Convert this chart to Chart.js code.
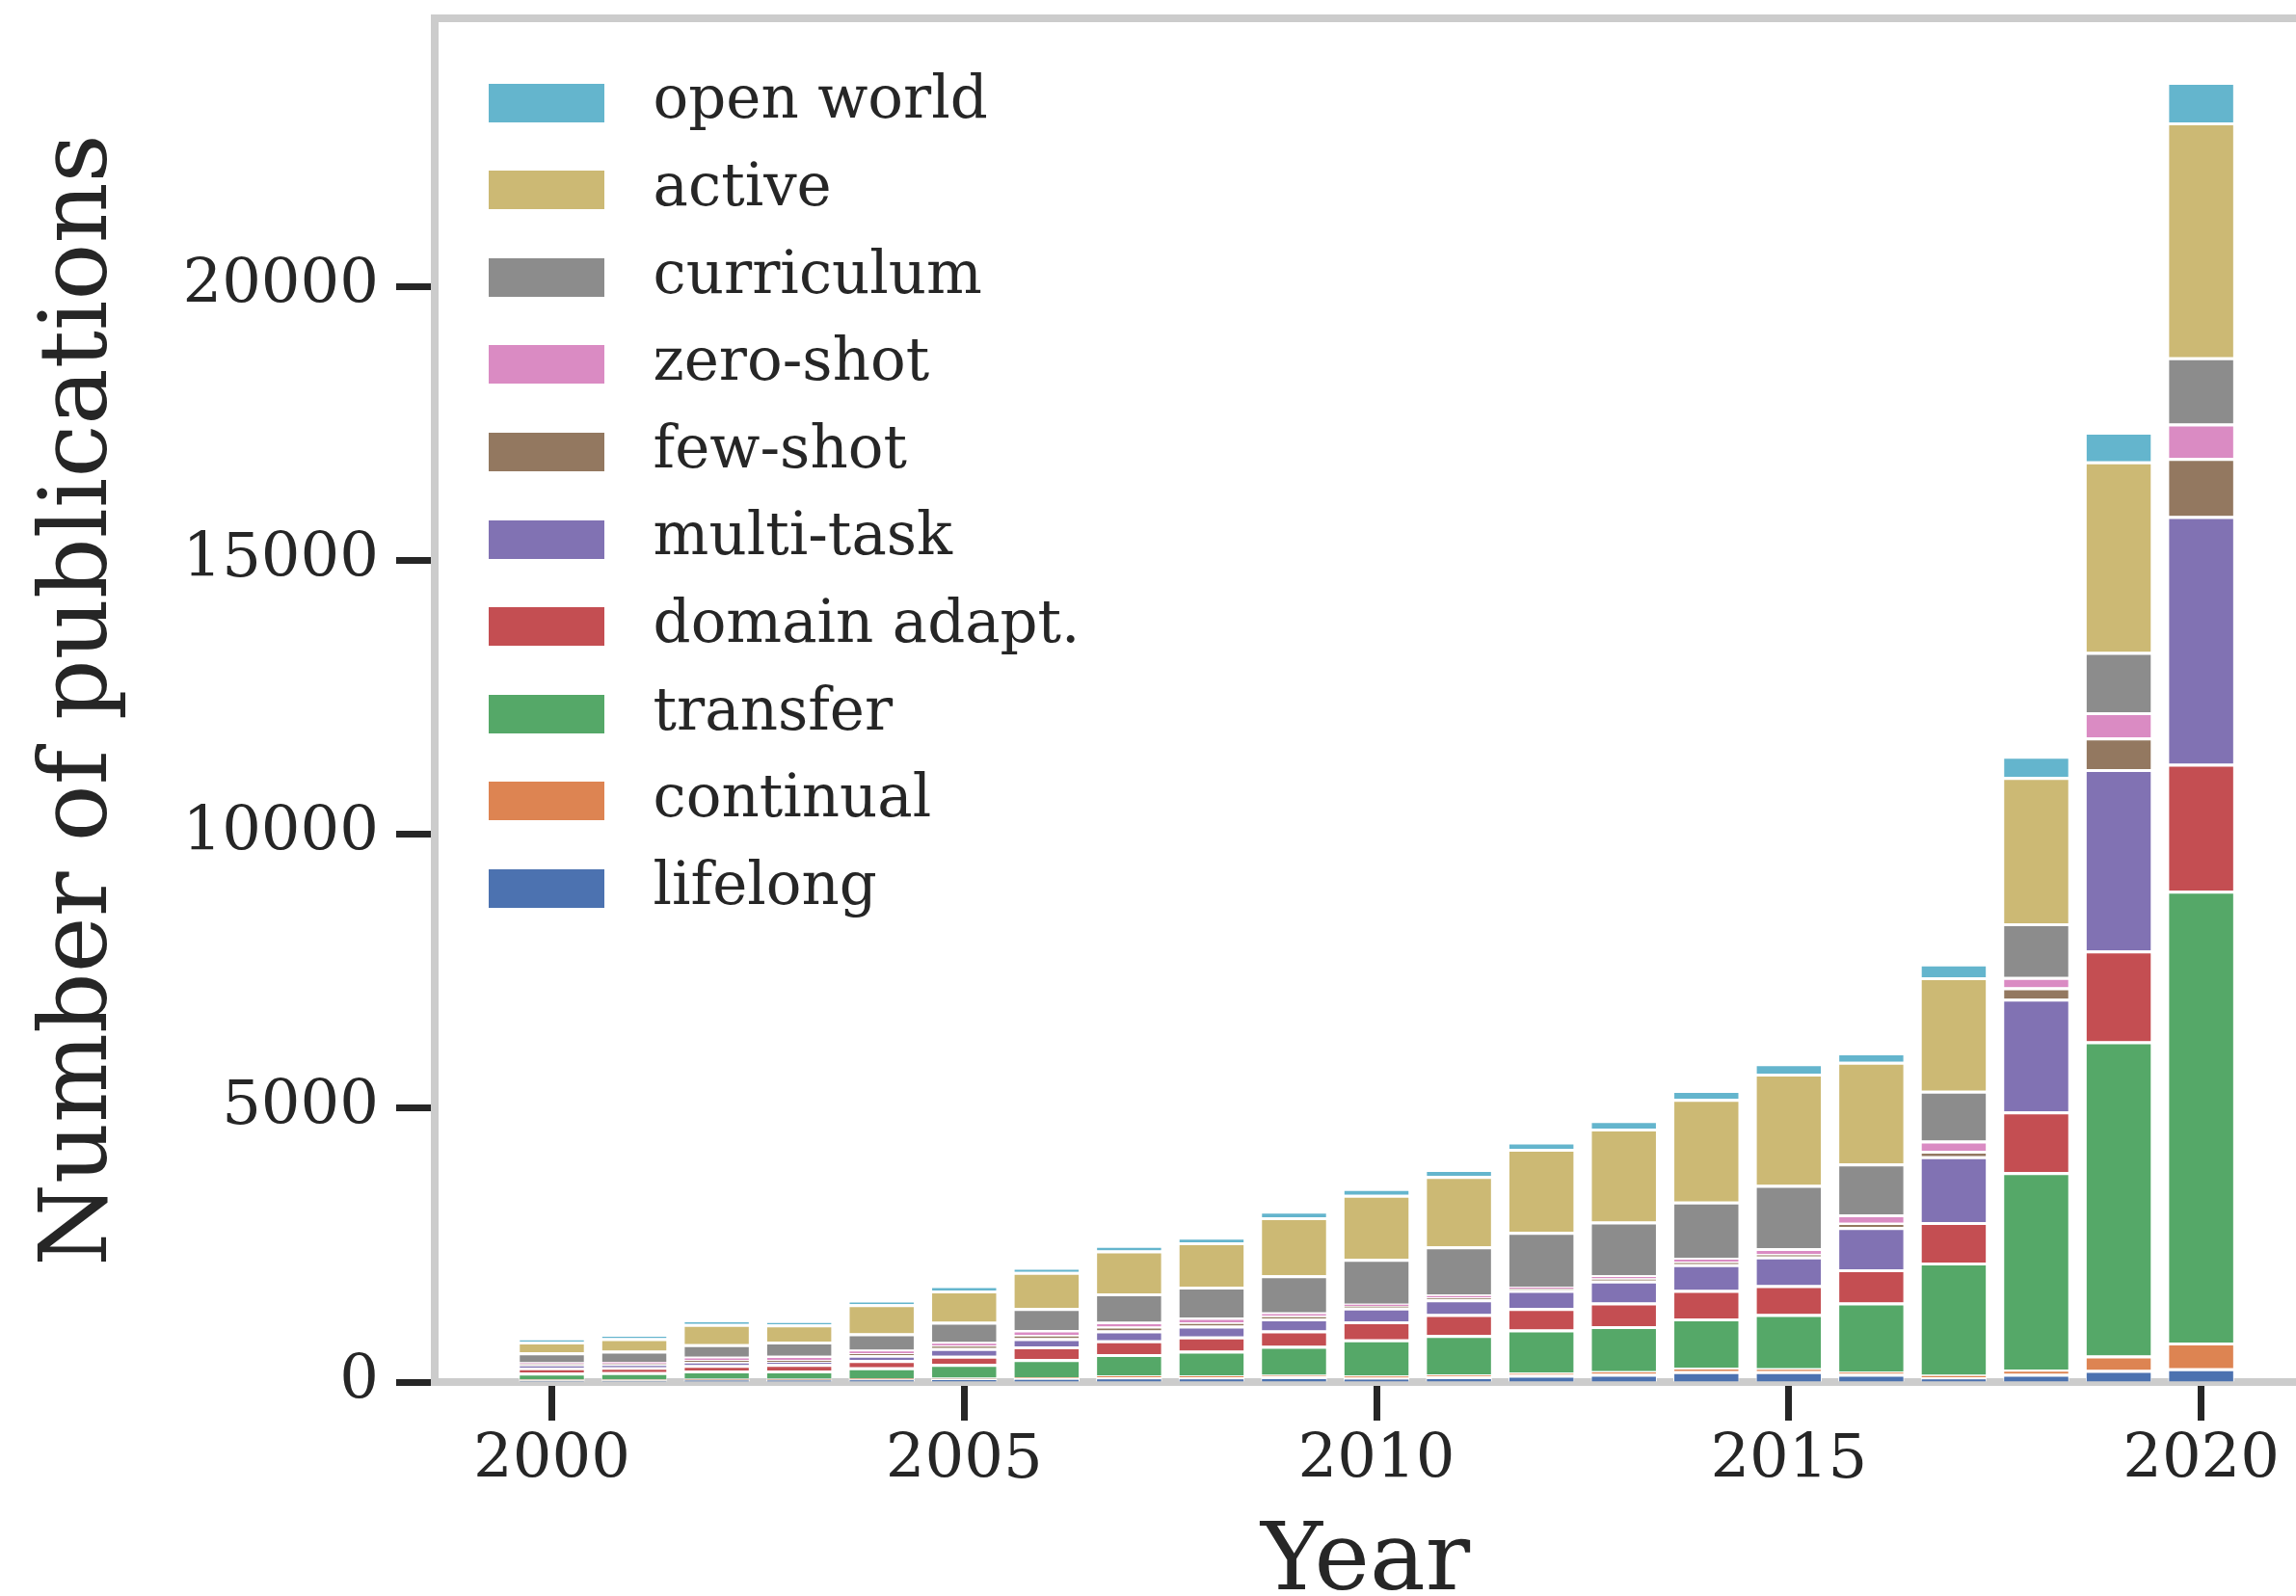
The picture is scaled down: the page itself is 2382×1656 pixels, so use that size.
<!DOCTYPE html>
<html>
<head>
<meta charset="utf-8">
<script src="https://cdn.jsdelivr.net/npm/chart.js@4/dist/chart.umd.min.js"></script>
<style>
  html, body { margin: 0; padding: 0; background: #ffffff; overflow: hidden; }
  #c { display: block; }
</style>
</head>
<body>
<canvas id="c" width="2382" height="1656"></canvas>
<script>
// ---- data (stack order: bottom -> top) ----
const years = [2000,2001,2002,2003,2004,2005,2006,2007,2008,2009,2010,2011,2012,2013,2014,2015,2016,2017,2018,2019,2020];
const lifelong   = [30, 30, 40, 40, 50, 60, 70, 90, 90, 100, 80, 100, 130, 150, 200, 200, 150, 90, 150, 220, 250];
const continual  = [20, 20, 20, 20, 20, 20, 20, 30, 30, 30, 40, 40, 40, 50, 60, 50, 40, 40, 80, 265, 470];
const transfer   = [120, 130, 150, 150, 200, 250, 330, 390, 450, 530, 660, 720, 790, 820, 900, 990, 1260, 2050, 3600, 5735, 8250];
const domainAdapt= [90, 90, 100, 120, 130, 150, 230, 250, 260, 280, 330, 380, 390, 430, 520, 530, 610, 740, 1110, 1660, 2320];
const multiTask  = [50, 50, 60, 40, 90, 140, 150, 180, 200, 220, 250, 270, 330, 400, 470, 520, 770, 1200, 2060, 3310, 4520];
const fewShot    = [20, 20, 30, 30, 40, 50, 60, 70, 60, 50, 30, 35, 25, 40, 50, 45, 80, 100, 205, 580, 1060];
const zeroShot   = [30, 30, 60, 80, 60, 60, 90, 90, 90, 60, 40, 50, 35, 60, 70, 110, 150, 190, 190, 460, 630];
const curriculum = [180, 200, 230, 260, 300, 370, 400, 520, 560, 680, 820, 880, 1000, 980, 1025, 1155, 930, 910, 980, 1100, 1210];
const active     = [200, 230, 370, 310, 530, 570, 660, 780, 810, 1060, 1170, 1285, 1520, 1700, 1875, 2030, 1855, 2070, 2670, 3480, 4290];
const openWorld  = [40, 50, 60, 60, 60, 90, 80, 100, 100, 120, 120, 130, 130, 150, 160, 190, 175, 250, 390, 540, 740];

const seriesNames  = ['lifelong','continual','transfer','domain adapt.','multi-task','few-shot','zero-shot','curriculum','active','open world'];
const seriesValues = [lifelong, continual, transfer, domainAdapt, multiTask, fewShot, zeroShot, curriculum, active, openWorld];
const seriesColors = ['#4C72B0','#DD8452','#55A868','#C44E52','#8172B3','#937860','#DA8BC3','#8C8C8C','#CCB974','#64B5CD'];

const yTickValues = [0, 5000, 10000, 15000, 20000];
const xTickValues = [2000, 2005, 2010, 2015, 2020];

// ---- styling ----
const FONT = "'DejaVu Serif', 'Liberation Serif', serif";
const INK = '#262626';
const SPINE = '#cccccc';

function swatch(color) {
  const c = document.createElement('canvas');
  c.width = 120; c.height = 40;
  const g = c.getContext('2d');
  g.fillStyle = color;
  g.fillRect(0, 0, 120, 40);
  return c;
}
const swatches = seriesColors.map(swatch);

const datasets = seriesNames.map((name, i) => ({
  label: name,
  data: years.map((yr, j) => ({ x: yr, y: seriesValues[i][j] })),
  backgroundColor: seriesColors[i],
  borderColor: '#ffffff',
  borderWidth: { top: 3, bottom: 0, left: 1, right: 1 },
  borderSkipped: false,
  barPercentage: 0.8,
  categoryPercentage: 1.0
}));

const legendPlacer = {
  id: 'legendPlacer',
  afterLayout(chart) {
    const lg = chart.legend;
    const ca = chart.chartArea;
    if (!lg) return;
    lg.left = ca.left + 5.5;
    lg.top = ca.top + 27.5;
    lg.bottom = lg.top + 1100;
  }
};

new Chart(document.getElementById('c'), {
  type: 'bar',
  data: { datasets },
  plugins: [legendPlacer],
  options: {
    responsive: false,
    animation: false,
    devicePixelRatio: 1,
    layout: { padding: 0 },
    plugins: {
      tooltip: { enabled: false },
      legend: {
        position: 'chartArea',
        align: 'start',
        reverse: true,
        labels: {
          usePointStyle: true,
          pointStyleWidth: 161,
          padding: 29.6,
          color: INK,
          font: { family: FONT, size: 61 },
          generateLabels(chart) {
            const items = Chart.defaults.plugins.legend.labels.generateLabels(chart);
            items.forEach(it => { it.pointStyle = swatches[it.datasetIndex]; it.lineWidth = 0; });
            return items;
          }
        }
      }
    },
    scales: {
      x: {
        type: 'linear',
        position: 'bottom',
        min: 1998.58,
        max: 2021.15,
        stacked: true,
        offset: false,
        z: 1,
        border: { display: true, color: SPINE, width: 8 },
        grid: { display: true, offset: false, drawOnChartArea: false, drawTicks: true, tickLength: 40, tickWidth: 7, tickColor: INK },
        afterBuildTicks(s) { s.ticks = xTickValues.map(v => ({ value: v })); },
        ticks: {
          autoSkip: false, maxRotation: 0, padding: 4, color: INK,
          font: { family: FONT, size: 64 },
          callback: v => String(v)
        },
        title: {
          display: true, text: 'Year', color: INK,
          font: { family: FONT, size: 97, lineHeight: 1 },
          padding: { top: 0, bottom: -16 }
        },
        afterFit(s) { s.height = 222; s.paddingLeft = 0; s.paddingRight = 0; }
      },
      xTop: {
        type: 'linear',
        position: 'top',
        min: 1998.58,
        max: 2021.15,
        offset: false,
        z: 1,
        border: { display: true, color: SPINE, width: 8 },
        grid: { display: false, drawOnChartArea: false, drawTicks: false },
        ticks: { display: false },
        afterFit(s) { s.height = 19; s.paddingLeft = 0; s.paddingRight = 0; }
      },
      y: {
        type: 'linear',
        position: 'left',
        min: 0,
        max: 24900,
        stacked: true,
        z: 1,
        border: { display: true, color: SPINE, width: 8 },
        grid: { display: true, drawOnChartArea: false, drawTicks: true, tickLength: 40, tickWidth: 7, tickColor: INK },
        afterBuildTicks(s) { s.ticks = yTickValues.map(v => ({ value: v })); },
        ticks: {
          padding: 18, color: INK,
          font: { family: FONT, size: 64 },
          callback: v => String(v)
        },
        title: {
          display: true, text: 'Number of publications', color: INK,
          font: { family: FONT, size: 98, lineHeight: 1 },
          padding: { top: 36, bottom: 0 }
        },
        afterFit(s) { s.width = 451; s.paddingTop = 0; s.paddingBottom = 0; }
      }
    }
  }
});
</script>
</body>
</html>
